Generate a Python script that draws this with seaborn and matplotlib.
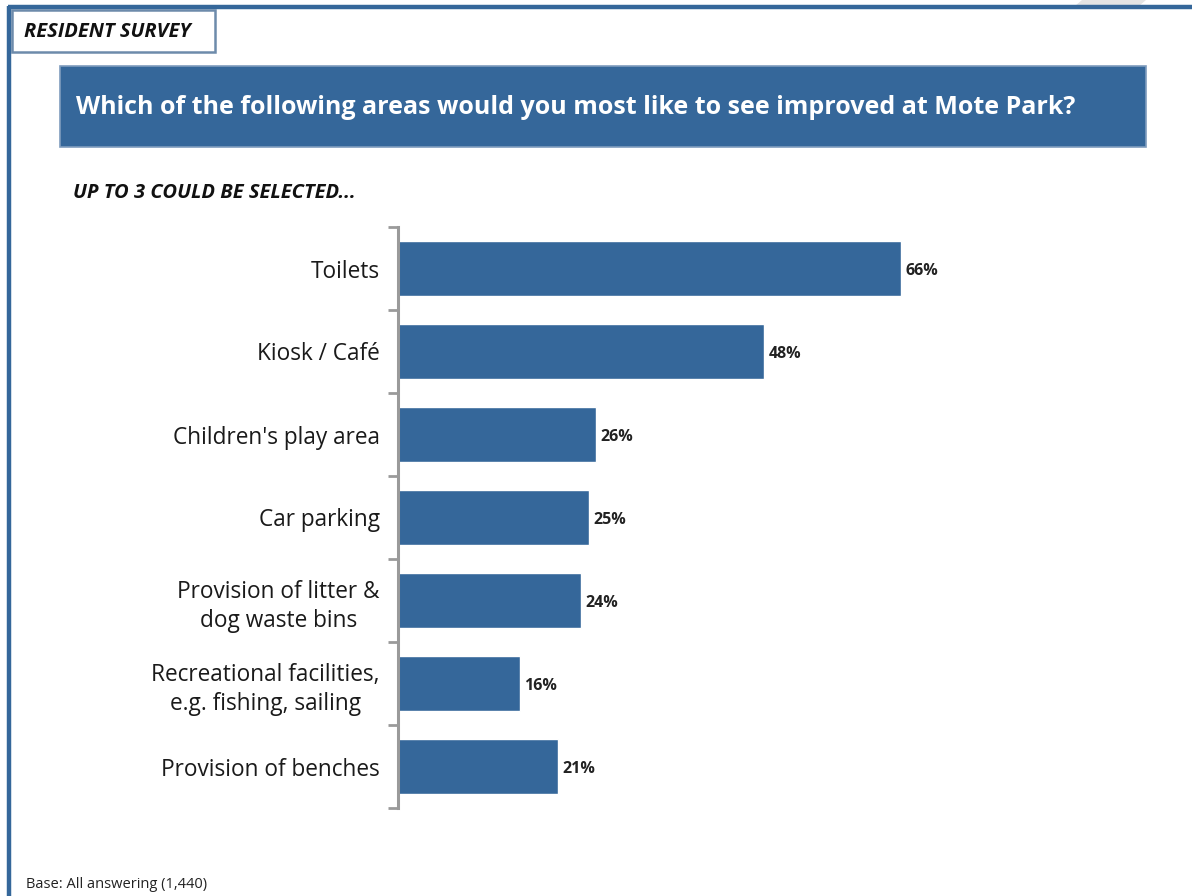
import matplotlib
matplotlib.use("Agg")
import matplotlib.pyplot as plt
from matplotlib.patches import Rectangle, Polygon
from matplotlib.lines import Line2D
import seaborn as sns
import pandas as pd

# Survey results: share of residents choosing each area (up to 3 choices)
categories = [
    "Toilets",
    "Kiosk / Café",
    "Children's play area",
    "Car parking",
    "Provision of litter &\ndog waste bins",
    "Recreational facilities,\ne.g. fishing, sailing",
    "Provision of benches",
]
values = [66, 48, 26, 25, 24, 16, 21]
value_labels = ["66%", "48%", "26%", "25%", "24%", "16%", "21%"]

header_text = "RESIDENT SURVEY"
question_text = "Which of the following areas would you most like to see improved at Mote Park?"
subtitle_text = "UP TO 3 COULD BE SELECTED..."
base_text = "Base: All answering (1,440)"

BLUE = "#35679a"
FONT = "Open Sans"

sns.set_theme(style="white")
plt.rcParams["font.family"] = [FONT, "DejaVu Sans"]

W, H = 1192, 896
fig = plt.figure(figsize=(W / 100, H / 100), dpi=100)


def fx(px):
    return px / W


def fy(py):
    return 1 - py / H


# Faint grey tab above the page frame, top right
fig.add_artist(Polygon([(fx(1075), fy(6)), (fx(1082), fy(0)), (fx(1146), fy(0)),
                        (fx(1139), fy(6))], closed=True, facecolor="#e4e4e4",
                       edgecolor="none", transform=fig.transFigure))

# Page frame lines (top and left)
fig.add_artist(Line2D([fx(8), fx(1192)], [fy(7.5), fy(7.5)], color=BLUE, lw=3.2,
                      solid_capstyle="butt", transform=fig.transFigure))
fig.add_artist(Line2D([fx(9), fx(9)], [fy(6), fy(896)], color=BLUE, lw=3.2,
                      solid_capstyle="butt", transform=fig.transFigure))

# Section tag box
fig.add_artist(Rectangle((fx(12), fy(52)), fx(203), 42 / H, facecolor="white",
                         edgecolor="#6d8bab", lw=1.8, transform=fig.transFigure))
fig.text(fx(24), fy(32), header_text, fontsize=14.5, fontweight="bold", style="italic",
         color="#111111", va="center", ha="left")

# Question banner
fig.add_artist(Rectangle((fx(60), fy(147)), fx(1086), 81 / H, facecolor=BLUE,
                         edgecolor="#7f9cbd", lw=1.2, transform=fig.transFigure))
fig.text(fx(76), fy(108), question_text, fontsize=18, fontweight="bold",
         color="white", va="center", ha="left")

fig.text(fx(73), fy(193), subtitle_text, fontsize=14.5, fontweight="bold", style="italic",
         color="#111111", va="center", ha="left")

fig.text(fx(26), fy(884), base_text, fontsize=10.5, color="#222222", va="center", ha="left")

# Bar chart
df = pd.DataFrame({"area": categories, "pct": values})
ax = fig.add_axes([fx(398), fy(808), fx(762), (808 - 227) / H])
sns.barplot(data=df, y="area", x="pct", orient="h", color=BLUE, saturation=1,
            width=0.66, ax=ax)

ax.set_xlim(0, 100)
ax.set_ylim(len(categories) - 0.5, -0.5)
ax.set_xlabel("")
ax.set_ylabel("")
ax.set_xticks([])
for s in ["top", "right", "bottom"]:
    ax.spines[s].set_visible(False)
ax.spines["left"].set_color("#9a9a9a")
ax.spines["left"].set_linewidth(2.2)

ax.set_yticks(range(len(categories)))
ax.set_yticklabels(categories, fontsize=16.3, color="#1a1a1a", multialignment="center",
                   linespacing=1.3)
ax.set_yticks([i - 0.5 for i in range(len(categories) + 1)], minor=True)
ax.tick_params(axis="y", which="major", length=0, pad=13)
ax.tick_params(axis="y", which="minor", length=7, width=2, color="#9a9a9a", left=True)

for i, (v, lab) in enumerate(zip(values, value_labels)):
    ax.text(v + 0.6, i + 0.03, lab, fontsize=11.5, fontweight="bold", color="#222222",
            va="center", ha="left")

fig.savefig("out.png", dpi=100, facecolor="white")
